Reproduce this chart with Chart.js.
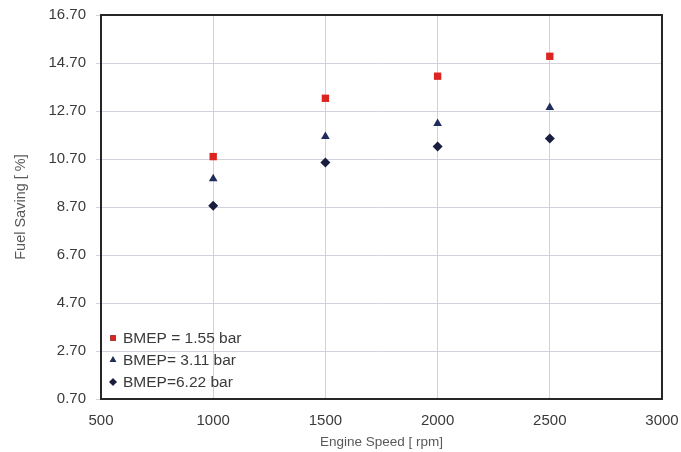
<!DOCTYPE html>
<html lang="en">
<head>
    <meta charset="UTF-8">
    <title>Fuel Saving vs Engine Speed</title>
    <script src="https://cdn.jsdelivr.net/npm/chart.js@4.4.1/dist/chart.umd.min.js"></script>
    <style>
        * { margin: 0; padding: 0; box-sizing: border-box; }
        body { background: #ffffff; }
        .chart-box { width: 681px; height: 452px; position: relative; }
    </style>
</head>
<body>
    <div class="chart-box">
        <canvas id="fuelChart"></canvas>
    </div>

    <script>
        // Data
        const engineSpeeds = [1000, 1500, 2000, 2500];
        const bmep155 = [10.80, 13.23, 14.15, 14.98];
        const bmep311 = [9.88, 11.64, 12.18, 12.85];
        const bmep622 = [8.75, 10.55, 11.22, 11.55];
        const seriesLabels = ['BMEP = 1.55 bar', 'BMEP= 3.11 bar', 'BMEP=6.22 bar'];
        const yTicks = [0.7, 2.7, 4.7, 6.7, 8.7, 10.7, 12.7, 14.7, 16.7];

        const FONT = '"Liberation Sans", Arial, sans-serif';

        function toPoints(values) {
            return engineSpeeds.map((s, i) => ({ x: s, y: values[i] }));
        }

        // Box round the plot area
        const frame = {
            id: 'frame',
            afterDatasetsDraw(chart) {
                const a = chart.chartArea;
                const ctx = chart.ctx;
                ctx.save();
                ctx.strokeStyle = '#262626';
                ctx.lineWidth = 2;
                ctx.strokeRect(a.left, a.top, a.right - a.left, a.bottom - a.top);
                ctx.restore();
            }
        };

        // Legend drawn inside the plot, bottom left
        const innerLegend = {
            id: 'innerLegend',
            afterDraw(chart) {
                const a = chart.chartArea;
                const ctx = chart.ctx;
                const rowGap = 22;
                const n = chart.data.datasets.length;
                ctx.save();
                ctx.font = '15.5px ' + FONT;
                ctx.textBaseline = 'middle';
                chart.data.datasets.forEach((ds, i) => {
                    const y = a.bottom - 17 - (n - 1 - i) * rowGap;
                    const x = a.left + 12;
                    Chart.helpers.drawPoint(ctx, {
                        pointStyle: ds.pointStyle,
                        radius: 3.8,
                        borderWidth: 0
                    }, x, y);
                    ctx.fillStyle = ds.backgroundColor;
                    ctx.fill();
                    ctx.fillStyle = '#3a3a3a';
                    ctx.fillText(ds.label, x + 10, y + 1);
                });
                ctx.restore();
            }
        };

        const ctx = document.getElementById('fuelChart').getContext('2d');
        new Chart(ctx, {
            type: 'scatter',
            data: {
                datasets: [
                    {
                        label: seriesLabels[0],
                        data: toPoints(bmep155),
                        pointStyle: 'rect',
                        pointRadius: 5.2,
                        backgroundColor: '#dc2520',
                        borderColor: '#dc2520',
                        borderWidth: 0
                    },
                    {
                        label: seriesLabels[1],
                        data: toPoints(bmep311),
                        pointStyle: 'triangle',
                        pointRadius: 5,
                        backgroundColor: '#1f2c5c',
                        borderColor: '#1f2c5c',
                        borderWidth: 0
                    },
                    {
                        label: seriesLabels[2],
                        data: toPoints(bmep622),
                        pointStyle: 'rectRot',
                        pointRadius: 5,
                        backgroundColor: '#1a1d40',
                        borderColor: '#1a1d40',
                        borderWidth: 0
                    }
                ]
            },
            options: {
                responsive: true,
                maintainAspectRatio: false,
                animation: false,
                layout: { padding: { top: 15, right: 19, bottom: 0, left: 0 } },
                plugins: {
                    legend: { display: false },
                    tooltip: { enabled: false }
                },
                scales: {
                    x: {
                        type: 'linear',
                        min: 500,
                        max: 3000,
                        ticks: {
                            stepSize: 500,
                            color: '#3a3a3a',
                            font: { family: FONT, size: 15 },
                            padding: 13,
                            maxRotation: 0,
                            callback: v => String(v)
                        },
                        grid: { color: '#d0d2dc', tickLength: 0 },
                        border: { display: false },
                        title: {
                            display: true,
                            text: 'Engine Speed [ rpm]',
                            color: '#595959',
                            font: { family: FONT, size: 13.5 },
                            padding: { top: 0, bottom: 2 }
                        },
                        afterFit(scale) {
                            scale.height = 53;
                            scale.paddingLeft = 0;
                            scale.paddingRight = 0;
                        }
                    },
                    y: {
                        type: 'linear',
                        min: 0.7,
                        max: 16.7,
                        afterBuildTicks(scale) {
                            scale.ticks = yTicks.map(v => ({ value: v }));
                        },
                        ticks: {
                            color: '#3a3a3a',
                            font: { family: FONT, size: 15 },
                            padding: 10,
                            callback: v => Number(v).toFixed(2)
                        },
                        grid: { color: '#d0d2dc', tickLength: 5 },
                        border: { display: false },
                        title: {
                            display: true,
                            text: 'Fuel Saving [ %]',
                            color: '#595959',
                            font: { family: FONT, size: 14.5 },
                            padding: { top: 12, bottom: 0 }
                        },
                        afterFit(scale) {
                            scale.width = 101;
                            scale.paddingTop = 0;
                            scale.paddingBottom = 0;
                        }
                    }
                }
            },
            plugins: [frame, innerLegend]
        });
    </script>
</body>
</html>
